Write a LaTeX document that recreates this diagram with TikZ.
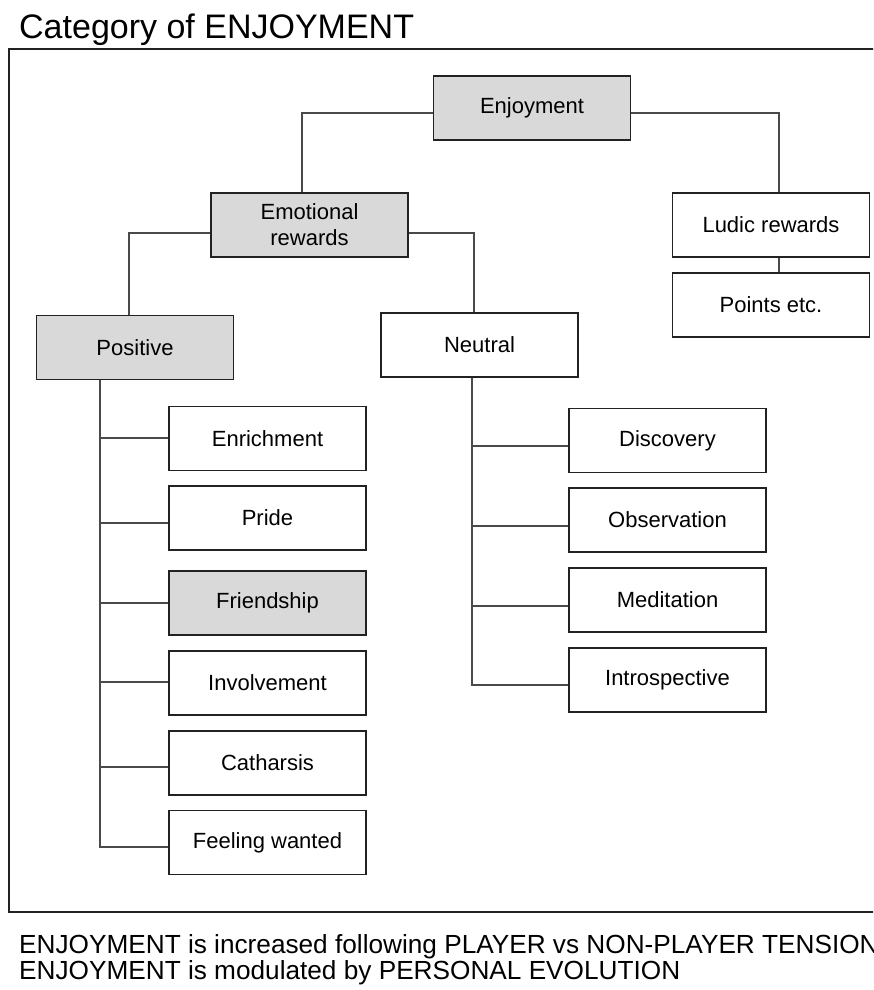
\documentclass[tikz,border=0pt]{standalone}
\usepackage{fontspec}
\setmainfont{Liberation Sans}
\usetikzlibrary{calc}
\definecolor{boxgrey}{HTML}{D9D9D9}
\definecolor{edge}{HTML}{222222}
\definecolor{wire}{HTML}{4A4A4A}
\begin{document}
\begin{tikzpicture}[x=1pt,y=-1pt,
  catbox/.style={draw=edge, line width=1.3pt, fill=white, minimum width=197pt,
    minimum height=64pt, inner sep=0pt, align=center,
    font=\fontsize{22}{26}\selectfont},
  shaded/.style={catbox, fill=boxgrey},
  link/.style={draw=wire, line width=1.1pt},
  note/.style={anchor=base west, inner sep=0pt, font=\fontsize{26.2}{26}\selectfont},
]
\useasboundingbox (0,0) rectangle (873,990);
\clip (0,0) rectangle (873,990);
\fill[white] (0,0) rectangle (873,990);

% heading and outer frame
\node[anchor=base west, inner sep=0pt, font=\fontsize{34}{40}\selectfont] (title) at (19,38.5) {Category of ENJOYMENT};
\draw[draw=edge, line width=1.4pt] (9,49) rectangle (895,912);

% upper levels
\node[shaded] (enj) at (532,108)   {Enjoyment};
\node[shaded] (emo) at (309.5,225) {Emotional\\rewards};
\node[catbox] (lud) at (771,225)   {Ludic rewards};
\node[catbox] (pts) at (771,305)   {Points etc.};
\node[shaded] (pos) at (135,347.5) {Positive};
\node[catbox] (neu) at (479.5,345) {Neutral};

% positive emotions
\node[catbox] (enr) at (267.5,438.5) {Enrichment};
\node[catbox] (pri) at (267.5,518)   {Pride};
\node[shaded] (fri) at (267.5,603)   {Friendship};
\node[catbox] (inv) at (267.5,683)   {Involvement};
\node[catbox] (cat) at (267.5,763)   {Catharsis};
\node[catbox] (few) at (267.5,842.5) {Feeling wanted};

% neutral emotions
\node[catbox] (dis) at (667.5,440.5) {Discovery};
\node[catbox] (obs) at (667.5,520)   {Observation};
\node[catbox] (med) at (667.5,600)   {Meditation};
\node[catbox] (int) at (667.5,680)   {Introspective};

% connectors between the upper levels
\draw[link] ([yshift=-5pt]enj.west) -| ([xshift=-7.5pt]emo.north);
\draw[link] ([yshift=-5pt]enj.east) -| ([xshift=8pt]lud.north);
\draw[link] ([xshift=8pt]lud.south) -- ([xshift=8pt]pts.north);
\draw[link] ([yshift=-8pt]emo.west) -| ([xshift=-6pt]pos.north);
\draw[link] ([yshift=-8pt]emo.east) -| ([xshift=-5.5pt]neu.north);

% positive trunk and branches
\coordinate (ptrunk) at ([xshift=-35pt]pos.south);
\foreach \n/\s in {enr/0.5, pri/-5, fri/0, inv/1, cat/-4, few/-4.5}
  \coordinate (b\n) at ([yshift=\s pt]\n.west);
\draw[link] (ptrunk) |- (bfew);
\foreach \n in {enr, pri, fri, inv, cat}
  \draw[link] (ptrunk |- b\n) -- (b\n);

% neutral trunk and branches
\coordinate (ntrunk) at ([xshift=-7.5pt]neu.south);
\foreach \n/\s in {dis/-5.5, obs/-6, med/-6, int/-5}
  \coordinate (b\n) at ([yshift=\s pt]\n.west);
\draw[link] (ntrunk) |- (bint);
\foreach \n in {dis, obs, med}
  \draw[link] (ntrunk |- b\n) -- (b\n);

% notes below the frame
\node[note] (note1) at (19,953) {ENJOYMENT is increased following PLAYER vs NON-PLAYER TENSION};
\node[note] (note2) at (19,979) {ENJOYMENT is modulated by PERSONAL EVOLUTION};
\end{tikzpicture}
\end{document}
